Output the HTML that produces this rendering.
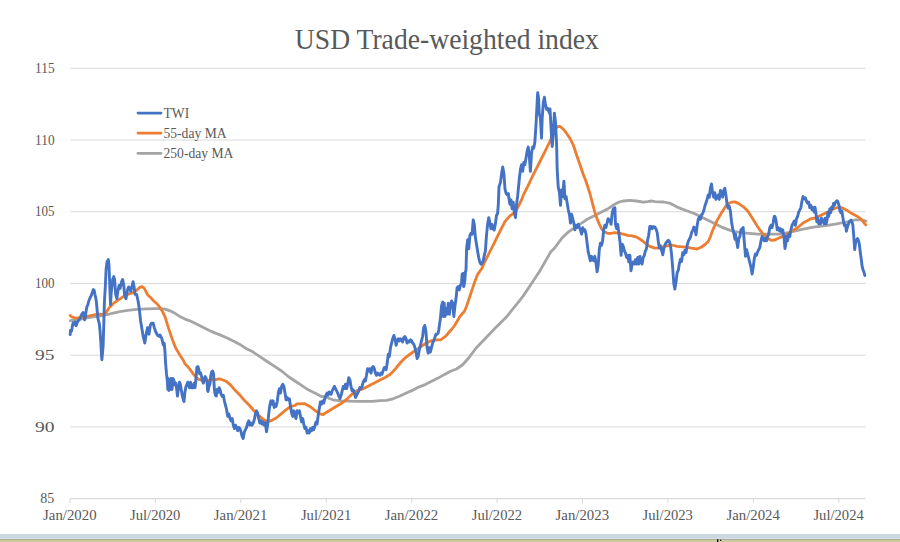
<!DOCTYPE html>
<html><head><meta charset="utf-8"><style>
html,body{margin:0;padding:0;background:#fff;}
body{width:900px;height:542px;overflow:hidden;position:relative;}
svg{position:absolute;left:0;top:0;display:block;}
text{font-family:"Liberation Serif",serif;fill:#595959;}
</style></head><body>
<svg width="900" height="542" viewBox="0 0 900 542">
<rect x="0" y="0" width="900" height="542" fill="#ffffff"/>
<line x1="70.5" y1="68.3" x2="865.5" y2="68.3" stroke="#d9d9d9" stroke-width="1"/>
<line x1="70.5" y1="140.0" x2="865.5" y2="140.0" stroke="#d9d9d9" stroke-width="1"/>
<line x1="70.5" y1="211.7" x2="865.5" y2="211.7" stroke="#d9d9d9" stroke-width="1"/>
<line x1="70.5" y1="283.5" x2="865.5" y2="283.5" stroke="#d9d9d9" stroke-width="1"/>
<line x1="70.5" y1="355.2" x2="865.5" y2="355.2" stroke="#d9d9d9" stroke-width="1"/>
<line x1="70.5" y1="426.9" x2="865.5" y2="426.9" stroke="#d9d9d9" stroke-width="1"/>

<line x1="70.0" y1="498.6" x2="865.5" y2="498.6" stroke="#d9d9d9" stroke-width="1.2"/>
<line x1="70.0" y1="498.6" x2="70.0" y2="503.1" stroke="#d9d9d9" stroke-width="1"/>
<line x1="155.4" y1="498.6" x2="155.4" y2="503.1" stroke="#d9d9d9" stroke-width="1"/>
<line x1="240.8" y1="498.6" x2="240.8" y2="503.1" stroke="#d9d9d9" stroke-width="1"/>
<line x1="326.3" y1="498.6" x2="326.3" y2="503.1" stroke="#d9d9d9" stroke-width="1"/>
<line x1="411.7" y1="498.6" x2="411.7" y2="503.1" stroke="#d9d9d9" stroke-width="1"/>
<line x1="497.1" y1="498.6" x2="497.1" y2="503.1" stroke="#d9d9d9" stroke-width="1"/>
<line x1="582.5" y1="498.6" x2="582.5" y2="503.1" stroke="#d9d9d9" stroke-width="1"/>
<line x1="667.9" y1="498.6" x2="667.9" y2="503.1" stroke="#d9d9d9" stroke-width="1"/>
<line x1="753.4" y1="498.6" x2="753.4" y2="503.1" stroke="#d9d9d9" stroke-width="1"/>
<line x1="838.8" y1="498.6" x2="838.8" y2="503.1" stroke="#d9d9d9" stroke-width="1"/>

<g font-size="14">
<text x="54.6" y="72.9" text-anchor="end" textLength="19.5" lengthAdjust="spacingAndGlyphs">115</text>
<text x="54.6" y="144.6" text-anchor="end" textLength="19.5" lengthAdjust="spacingAndGlyphs">110</text>
<text x="54.6" y="216.3" text-anchor="end" textLength="19.5" lengthAdjust="spacingAndGlyphs">105</text>
<text x="54.6" y="288.1" text-anchor="end" textLength="19.5" lengthAdjust="spacingAndGlyphs">100</text>
<text x="54.6" y="359.8" text-anchor="end" textLength="19.5" lengthAdjust="spacingAndGlyphs">95</text>
<text x="54.6" y="431.5" text-anchor="end" textLength="19.5" lengthAdjust="spacingAndGlyphs">90</text>
<text x="54.2" y="502.9" text-anchor="end">85</text>

<text x="69.8" y="520.3" text-anchor="middle" textLength="53.5" lengthAdjust="spacingAndGlyphs">Jan/2020</text>
<text x="155.2" y="520.3" text-anchor="middle" textLength="50.4" lengthAdjust="spacingAndGlyphs">Jul/2020</text>
<text x="240.6" y="520.3" text-anchor="middle" textLength="53.5" lengthAdjust="spacingAndGlyphs">Jan/2021</text>
<text x="326.1" y="520.3" text-anchor="middle" textLength="50.4" lengthAdjust="spacingAndGlyphs">Jul/2021</text>
<text x="411.5" y="520.3" text-anchor="middle" textLength="53.5" lengthAdjust="spacingAndGlyphs">Jan/2022</text>
<text x="496.9" y="520.3" text-anchor="middle" textLength="50.4" lengthAdjust="spacingAndGlyphs">Jul/2022</text>
<text x="582.3" y="520.3" text-anchor="middle" textLength="53.5" lengthAdjust="spacingAndGlyphs">Jan/2023</text>
<text x="667.7" y="520.3" text-anchor="middle" textLength="50.4" lengthAdjust="spacingAndGlyphs">Jul/2023</text>
<text x="753.2" y="520.3" text-anchor="middle" textLength="53.5" lengthAdjust="spacingAndGlyphs">Jan/2024</text>
<text x="838.6" y="520.3" text-anchor="middle" textLength="50.4" lengthAdjust="spacingAndGlyphs">Jul/2024</text>

</g>
<text x="294.8" y="49.1" font-size="28.6" textLength="304" lengthAdjust="spacingAndGlyphs">USD Trade-weighted index</text>
<g fill="none" stroke-linejoin="round" stroke-linecap="round">
<polyline points="70.2,320.6 76.8,319.9 82.7,318.7 88.6,317.6 94.5,316.6 100.0,316.0 109.2,314.1 118.5,311.8 127.7,310.4 136.9,309.3 146.1,308.8 155.4,308.6 160.0,308.6 165.0,309.1 170.0,310.8 175.0,313.3 180.0,316.6 184.9,319.1 189.9,320.8 194.9,323.3 199.9,325.8 204.9,328.3 209.9,330.7 214.8,332.9 220.0,334.9 226.6,337.7 233.3,341.1 239.9,344.4 246.6,348.8 253.2,352.1 259.8,356.6 266.5,361.0 273.1,365.4 281.6,371.0 288.3,376.5 294.9,381.0 301.6,385.4 308.2,389.8 314.8,393.1 321.5,396.5 325.0,396.7 332.8,399.8 340.7,400.9 356.4,401.4 372.1,401.4 380.0,400.7 386.5,400.3 392.9,398.8 399.4,396.2 405.8,393.2 412.3,390.4 418.7,387.1 425.2,384.6 431.7,381.3 438.1,378.1 444.6,374.4 450.0,371.5 456.5,369.0 462.4,365.0 469.1,357.5 475.7,348.5 485.0,338.7 489.8,333.7 495.3,328.1 500.8,322.6 506.4,317.1 511.9,310.2 517.4,303.3 522.9,296.4 528.5,288.1 534.0,279.8 539.5,271.5 545.1,261.8 550.6,252.1 555.0,247.5 561.6,238.6 568.3,232.0 574.9,227.6 581.6,223.1 588.2,218.7 594.8,215.4 601.5,212.1 608.1,208.7 614.4,204.4 618.9,202.1 623.3,201.0 629.9,200.4 636.6,201.0 643.2,202.1 647.6,201.7 652.1,201.0 655.0,201.6 663.9,202.0 670.5,203.4 677.2,207.1 686.0,210.5 694.9,213.8 703.8,218.2 712.6,222.6 721.5,227.1 730.3,230.4 735.0,231.6 746.4,233.1 757.5,234.2 768.6,234.2 780.0,234.2 791.1,232.0 802.1,229.3 813.2,227.1 824.2,225.8 835.3,224.2 846.4,222.0 855.2,219.8 861.9,219.8 866.0,221.0" stroke="#a5a5a5" stroke-width="2.8"/>
<polyline points="70.2,315.4 71.6,316.9 73.9,317.6 76.8,318.1 79.8,317.6 84.2,317.2 88.6,316.2 93.0,315.1 97.5,314.2 100.0,314.1 104.6,314.6 109.2,307.7 113.8,303.1 118.5,299.8 124.0,296.1 127.7,294.3 132.3,292.9 136.9,290.1 139.7,287.4 142.0,286.5 144.3,288.3 146.1,292.0 148.0,295.2 150.7,297.5 153.5,300.8 157.2,304.0 160.0,307.5 162.5,311.6 164.2,315.0 165.8,319.1 167.5,324.9 169.1,329.9 170.8,334.9 172.5,339.9 174.1,344.0 175.8,348.2 178.3,352.4 180.8,356.5 183.1,360.0 184.9,363.7 187.7,366.5 190.5,370.2 193.2,373.9 196.0,377.5 198.8,379.4 202.5,380.3 206.2,380.5 209.9,380.3 213.6,379.4 215.0,379.6 219.7,378.8 226.0,381.2 230.7,385.1 235.4,390.6 240.1,395.3 244.8,400.8 249.5,405.5 254.2,411.0 258.9,415.7 263.6,419.6 267.5,422.0 271.5,420.4 276.2,418.0 280.9,414.1 285.6,410.2 290.3,406.7 295.0,405.5 297.0,403.9 304.8,403.7 310.0,406.5 315.0,410.5 320.0,413.8 323.2,414.7 325.0,413.2 332.8,408.5 340.7,403.8 347.0,399.1 350.1,395.9 353.3,392.8 356.4,390.9 362.7,388.9 369.0,385.7 375.2,382.6 380.0,380.0 385.2,377.5 390.3,374.2 394.2,370.3 398.1,365.5 402.0,361.0 405.8,357.3 411.0,353.5 416.2,349.8 421.3,346.3 426.5,343.0 431.7,340.6 436.8,339.8 440.7,339.8 445.5,336.4 448.8,332.5 451.5,329.5 454.3,326.0 457.0,321.5 459.9,316.5 462.0,314.0 464.3,311.5 466.5,306.5 469.8,296.5 473.1,286.6 475.4,280.0 477.6,274.4 480.0,271.1 482.5,267.2 483.3,264.8 486.6,258.2 489.9,251.5 493.3,244.9 496.6,238.2 500.7,229.9 504.9,221.6 509.9,215.8 514.9,212.5 518.2,206.6 521.5,200.0 523.2,195.4 526.5,188.8 529.8,182.1 530.0,181.5 533.3,174.7 536.6,168.1 539.9,161.5 543.3,154.8 546.6,148.2 549.9,141.5 552.4,134.9 554.9,129.5 557.4,126.6 559.9,126.4 563.2,129.0 566.5,133.2 569.9,138.2 573.2,144.8 576.5,154.8 580.0,164.8 583.2,174.2 585.4,179.7 587.6,186.3 589.8,193.0 592.1,201.8 594.8,212.1 597.1,218.7 599.3,224.2 601.5,228.7 603.7,231.5 607.0,233.1 610.3,233.5 614.4,232.7 618.9,233.1 623.3,234.2 627.7,235.3 632.1,235.8 636.6,237.1 641.0,239.8 645.4,243.1 649.8,246.4 655.0,248.1 659.0,247.8 663.9,247.0 667.0,245.8 670.5,244.8 673.5,245.5 677.2,246.4 686.0,247.2 691.5,248.2 697.1,249.0 701.5,247.0 705.0,244.5 708.2,241.5 710.5,236.5 712.6,230.4 717.1,220.4 721.5,212.7 725.9,206.0 729.0,203.3 731.5,202.2 735.0,201.9 737.9,203.1 743.5,206.8 748.1,211.4 752.7,218.8 757.3,226.2 761.9,232.6 766.5,237.8 771.2,240.3 774.8,240.0 778.5,238.2 782.2,236.6 785.0,235.6 788.8,233.1 797.7,227.5 804.3,222.2 811.0,218.7 815.0,218.2 820.5,215.5 826.1,212.7 831.6,209.9 835.5,208.0 838.5,207.3 841.5,207.6 846.4,209.9 851.9,213.6 857.5,216.4 862.1,220.1 864.8,223.8 865.8,224.9" stroke="#ed7d31" stroke-width="2.8"/>
<polyline points="70.2,334.6 70.6,330.2 71.6,330.9 72.4,325.8 73.1,322.8 74.2,324.3 75.0,322.1 76.1,325.8 77.1,322.8 78.3,320.6 79.8,319.1 80.9,316.2 82.0,313.9 83.0,312.5 83.9,315.4 84.6,319.9 85.4,316.9 86.1,311.0 86.8,307.3 87.9,304.4 88.9,300.7 90.1,297.7 91.3,295.5 92.3,292.5 93.3,289.6 94.2,290.3 95.0,294.8 95.7,297.7 96.4,302.1 97.2,311.0 97.9,318.4 98.7,321.3 99.4,324.3 100.1,331.7 100.9,343.5 101.6,356.8 101.9,359.7 103.1,346.4 103.8,324.3 104.4,302.1 105.3,286.9 106.1,269.2 107.1,261.8 108.3,259.6 109.0,264.8 109.8,286.9 110.5,304.6 111.2,292.8 112.7,279.5 113.7,276.6 114.6,279.5 115.7,294.3 116.8,298.7 117.9,291.3 119.1,285.4 120.1,288.4 121.6,281.7 122.7,279.5 123.8,285.4 124.5,294.3 126.0,298.7 126.7,294.3 127.5,289.9 128.7,286.9 129.7,288.4 130.7,291.3 131.9,286.9 133.1,281.7 134.1,286.9 135.0,294.3 136.6,294.4 138.1,301.0 139.4,309.8 140.6,320.9 141.7,327.6 143.2,336.4 144.8,343.1 146.1,334.2 147.6,327.6 149.0,334.2 150.3,325.3 151.6,323.1 153.2,323.1 154.3,327.6 155.8,332.0 157.6,335.3 159.1,336.4 160.0,334.9 161.7,338.2 163.3,344.9 164.2,343.2 165.0,352.0 165.5,362.0 166.5,373.9 167.4,381.2 167.8,389.5 168.3,378.5 168.8,390.5 169.2,379.4 170.2,389.5 171.1,378.5 172.0,389.5 172.9,378.5 173.9,380.3 174.8,384.9 175.7,383.1 176.6,388.6 177.5,396.0 178.5,387.7 179.4,382.2 180.3,384.0 181.2,389.5 182.2,395.1 183.1,398.8 184.0,401.6 184.9,392.3 185.9,386.8 186.8,384.9 187.7,382.2 188.6,384.9 189.5,387.7 190.5,382.2 191.4,387.7 192.3,384.9 193.2,387.7 194.2,383.1 195.1,387.7 196.0,378.5 196.9,367.4 197.9,366.5 198.8,369.2 199.7,373.9 200.6,372.9 201.6,376.6 202.5,381.2 203.4,383.1 204.3,378.5 205.2,376.6 206.2,378.5 207.1,382.2 207.6,390.5 208.0,391.4 208.9,386.8 209.9,384.0 210.8,375.7 211.7,372.0 212.6,371.1 213.6,373.9 214.0,383.1 214.5,390.5 215.4,395.1 216.3,396.0 217.2,389.5 218.2,392.3 219.1,387.7 220.0,389.5 221.1,394.2 222.2,396.4 223.3,395.3 224.4,400.8 225.5,405.3 226.6,409.7 227.7,416.3 228.9,414.1 230.0,418.6 231.1,420.8 232.2,418.6 233.3,425.2 234.4,428.5 235.5,425.2 236.6,427.4 237.7,430.7 238.8,427.4 239.9,428.5 241.0,431.8 242.1,436.3 243.2,438.5 244.4,431.8 245.5,429.6 246.6,427.4 247.7,423.0 248.8,420.8 249.9,425.2 251.0,423.0 252.1,425.2 253.2,423.0 254.3,419.7 255.4,414.1 256.5,410.8 257.6,413.0 258.7,418.6 259.8,423.0 261.0,420.8 262.1,424.1 263.2,421.9 264.3,425.2 265.4,423.0 266.5,431.8 267.6,425.2 268.7,414.1 269.8,405.3 270.9,400.8 272.0,404.2 273.1,400.8 274.2,407.5 275.0,404.2 276.1,406.4 277.2,402.0 278.3,393.1 279.4,388.7 280.5,393.1 281.6,386.5 282.7,384.3 283.9,386.5 285.0,393.1 286.1,399.8 287.2,397.6 288.3,399.8 289.4,398.7 290.5,406.4 291.6,413.1 292.7,416.4 293.8,410.8 294.9,415.3 296.0,418.6 297.1,410.8 298.2,413.1 299.4,410.8 300.5,416.4 301.6,421.9 302.7,418.6 303.8,424.1 304.9,428.6 306.0,427.4 307.1,433.0 308.2,430.8 309.3,433.0 310.4,428.6 311.5,430.8 312.6,427.4 313.7,429.7 314.8,426.3 316.0,421.9 317.1,424.1 318.2,415.3 319.3,408.6 320.4,402.0 321.5,404.2 322.6,400.9 323.7,403.1 324.8,398.7 325.9,395.3 327.0,393.1 328.1,395.3 329.2,392.0 330.0,393.1 331.1,394.2 332.2,390.8 333.3,388.6 334.4,386.4 335.5,388.6 336.6,390.8 337.7,393.1 338.9,396.4 340.0,398.6 341.1,395.3 342.2,390.8 343.3,386.4 344.4,388.6 345.5,384.2 346.6,388.6 347.7,384.2 348.8,377.6 349.9,379.8 351.0,386.4 352.1,390.8 353.2,389.7 354.4,393.1 355.5,397.5 356.6,395.3 357.7,393.1 358.8,390.8 359.9,387.5 361.0,388.6 362.1,386.4 363.2,382.0 364.3,379.8 365.4,380.9 366.5,375.3 367.6,368.7 368.7,370.9 369.8,368.7 371.0,373.1 372.1,367.6 373.2,366.5 374.3,368.7 375.4,373.1 376.5,375.3 377.6,373.1 378.7,374.2 379.8,375.3 380.9,373.1 382.0,374.2 383.1,370.9 384.2,367.6 385.0,367.5 386.1,369.7 387.2,363.1 388.3,354.2 389.4,356.4 390.5,347.6 391.6,343.1 392.7,338.7 393.9,335.4 395.0,338.7 396.1,345.3 397.2,340.9 398.3,338.7 399.4,340.9 400.5,338.7 401.6,339.8 402.7,342.0 403.8,337.6 404.9,336.5 406.0,338.7 407.1,343.1 408.2,340.9 409.4,342.0 410.5,339.8 411.6,340.9 412.7,343.1 413.8,344.2 414.9,347.6 416.0,352.0 417.1,358.6 418.2,356.4 419.3,349.8 420.4,345.3 421.5,340.9 422.6,336.5 423.7,327.6 424.8,325.4 426.0,332.1 427.1,347.6 428.2,353.1 429.3,347.6 430.4,352.0 431.5,347.6 432.6,343.1 433.7,340.9 434.8,337.6 435.9,334.3 437.0,334.3 438.1,333.2 438.8,329.7 440.5,317.6 441.6,305.4 442.7,302.1 443.3,316.5 444.2,303.2 444.9,316.5 446.0,308.7 447.1,314.2 448.3,303.2 449.4,314.2 450.5,305.4 451.6,301.0 452.7,303.2 453.8,316.5 454.9,306.5 456.0,298.8 457.1,287.7 458.2,286.6 459.3,289.9 460.4,285.5 461.5,283.3 462.1,274.4 463.2,273.3 463.7,286.6 464.8,281.1 465.4,272.2 466.0,270.0 466.6,248.7 467.7,239.8 468.8,248.7 469.9,235.4 471.0,233.2 472.1,234.3 473.2,219.9 474.3,224.4 475.4,237.6 476.5,244.3 477.6,250.9 478.7,257.6 479.8,262.0 481.0,264.2 482.1,263.1 483.2,260.9 484.3,255.3 485.4,250.9 486.5,235.4 487.6,224.4 488.7,217.7 489.8,222.1 490.9,228.8 492.0,224.4 493.1,228.8 494.2,229.9 495.3,224.4 496.5,215.5 497.6,213.3 498.3,204.5 499.0,186.8 500.5,182.4 501.6,173.6 502.7,166.9 503.9,173.6 505.0,189.0 506.1,193.5 507.2,194.6 508.3,193.5 508.8,197.6 509.9,204.3 511.0,199.8 512.1,208.7 513.2,202.1 514.4,213.1 515.5,217.6 516.6,204.3 517.7,195.4 519.4,178.0 520.5,169.1 521.6,164.7 522.7,171.3 523.8,162.5 524.9,164.7 526.0,158.1 527.1,151.4 528.2,147.0 529.3,155.8 530.4,171.3 531.5,153.6 532.6,147.0 533.7,148.1 534.8,142.6 536.0,124.8 537.1,102.7 537.7,92.7 538.6,98.3 539.3,113.8 540.4,118.2 541.5,138.1 542.2,118.2 543.3,102.7 544.4,97.2 545.5,104.9 546.6,109.4 547.7,108.2 548.8,111.6 549.9,113.8 550.0,108.9 551.1,128.8 552.2,146.5 553.3,133.2 554.4,113.3 555.5,122.1 556.6,144.3 557.2,170.0 558.3,187.7 559.4,192.1 560.5,205.4 561.6,189.9 562.7,196.6 563.9,181.1 565.0,198.8 566.1,196.6 567.2,203.2 568.3,209.8 569.4,214.3 570.5,223.1 571.6,214.3 572.7,218.7 573.8,223.1 574.9,229.8 576.0,225.3 577.1,227.6 578.2,224.2 579.4,227.6 580.5,229.8 581.6,234.2 582.7,227.6 583.8,230.9 584.9,229.8 586.0,234.2 587.1,243.1 588.2,251.9 589.3,256.3 590.4,260.8 591.5,256.3 592.6,258.6 593.7,260.8 594.8,256.3 596.0,263.0 597.1,271.8 598.2,265.2 599.3,249.7 600.4,243.1 601.5,245.3 602.6,240.8 603.7,229.8 604.8,225.3 605.9,227.6 607.0,223.1 608.1,218.7 609.2,220.9 610.0,219.8 611.1,224.3 612.2,213.2 613.3,208.8 614.4,213.2 614.9,207.7 615.5,224.3 616.6,228.7 617.7,224.3 618.9,233.1 620.0,242.0 621.1,255.3 622.2,244.2 623.3,246.4 624.4,250.8 625.5,253.1 626.6,257.5 627.7,255.3 628.8,261.9 629.9,255.3 631.0,270.8 632.1,264.1 633.2,261.9 634.4,264.1 635.5,259.7 636.6,264.1 637.7,257.5 638.8,264.1 639.9,256.4 641.0,261.9 642.1,264.1 643.2,257.5 644.3,255.3 645.4,250.8 646.5,248.6 647.6,239.8 648.7,235.3 649.8,226.5 651.0,226.5 652.1,228.7 653.2,226.5 654.3,227.6 655.0,227.1 656.1,229.3 657.2,232.6 658.3,241.5 659.4,248.1 660.5,245.9 661.6,250.3 662.8,254.8 663.9,248.1 665.0,244.8 666.1,242.6 667.2,241.5 668.3,240.4 669.4,241.5 670.5,245.9 671.6,254.8 672.7,268.1 673.8,283.6 674.9,289.1 676.1,281.4 677.2,272.5 678.3,270.3 679.4,263.6 680.5,259.2 681.6,261.4 682.7,252.6 683.8,254.8 684.9,250.3 686.0,252.6 687.1,245.9 688.2,241.5 689.3,239.3 690.5,237.0 691.6,232.6 692.7,230.4 693.8,227.1 694.9,228.2 696.0,234.8 697.1,226.0 698.2,219.3 699.3,217.1 700.4,219.3 701.5,214.9 702.6,213.8 703.8,210.5 704.9,206.0 706.0,202.7 707.1,199.4 708.2,194.9 709.3,197.2 710.4,188.3 711.5,183.9 712.6,192.7 713.7,197.2 714.8,192.7 715.9,199.4 717.0,197.2 718.2,194.9 719.3,199.4 720.4,190.5 721.5,192.7 722.6,197.2 723.7,190.5 724.8,188.3 725.9,194.9 727.0,203.8 728.1,208.2 729.2,206.0 730.3,210.5 731.5,221.5 732.6,228.2 733.7,232.6 735.0,239.3 735.5,234.2 736.6,240.8 737.7,247.5 738.8,238.6 739.9,236.4 741.0,229.8 742.1,228.7 743.2,227.6 744.4,243.1 745.5,256.3 746.6,249.7 747.7,254.1 748.8,258.6 749.9,263.0 751.0,267.4 752.1,274.1 753.2,267.4 754.3,258.6 755.4,254.1 756.5,255.2 757.6,251.9 758.7,249.7 759.8,247.5 761.0,240.8 762.1,236.4 763.2,238.6 764.3,240.8 765.4,238.6 766.5,240.8 767.6,236.4 768.7,234.2 769.8,227.6 770.9,225.3 772.0,227.6 773.1,223.1 774.2,216.5 775.0,216.5 776.1,220.9 777.2,229.8 778.3,227.6 779.4,230.9 780.5,228.7 781.6,232.0 782.7,229.8 783.9,236.4 785.0,248.6 785.6,245.3 786.5,236.4 787.6,240.8 788.7,234.2 789.8,236.4 790.9,229.8 792.0,225.3 793.2,223.1 794.3,220.9 795.4,225.3 796.5,218.7 797.6,216.5 798.7,212.1 799.8,209.8 800.9,207.6 802.0,201.0 803.1,196.6 804.2,198.8 805.3,197.7 806.4,201.0 807.5,203.2 808.7,202.1 809.8,207.6 810.9,205.4 812.0,209.8 813.1,207.6 814.2,212.1 815.0,207.2 815.9,212.7 816.8,221.9 817.8,218.2 818.7,223.8 819.6,221.0 820.5,223.8 821.5,218.2 822.4,221.9 823.3,220.1 824.2,223.8 825.2,218.2 826.1,223.8 827.0,220.1 827.9,212.7 828.8,216.4 829.8,209.0 830.7,212.7 831.6,207.2 832.5,209.0 833.5,203.5 834.4,205.3 835.3,202.5 836.2,201.6 837.2,200.7 838.1,202.5 839.0,205.3 839.9,210.8 840.8,212.7 841.8,210.8 842.7,216.4 843.6,221.9 844.5,225.6 845.5,224.7 846.4,231.2 847.3,227.5 848.2,224.7 849.2,221.9 850.1,221.0 851.0,220.1 851.9,221.9 852.8,224.7 853.8,236.7 854.7,249.6 855.6,242.2 856.5,240.4 857.5,238.5 858.4,240.4 859.3,244.1 860.2,251.5 861.2,258.8 862.1,266.2 863.0,269.9 863.9,271.8 864.8,275.5" stroke="#4472c4" stroke-width="2.9"/>
</g>
<g stroke-width="2.8" stroke-linecap="round">
<line x1="138" y1="113.1" x2="161" y2="113.1" stroke="#4472c4"/>
<line x1="138" y1="133.1" x2="161" y2="133.1" stroke="#ed7d31"/>
<line x1="138" y1="153.3" x2="161" y2="153.3" stroke="#a5a5a5"/>
</g>
<g font-size="13.6">
<text x="163.5" y="117.5">TWI</text>
<text x="163.5" y="137.5">55-day MA</text>
<text x="163.5" y="157.6">250-day MA</text>
</g>
<rect x="0" y="534" width="900" height="4" fill="#cdd8e1"/>
<rect x="0" y="538" width="900" height="1" fill="#d4e0e9"/>
<rect x="0" y="539" width="900" height="1" fill="#aeae92"/>
<rect x="0" y="540" width="900" height="2" fill="#cbc8a2"/>
<rect x="717" y="539.3" width="1.3" height="2.7" fill="#000"/>
<circle cx="720.6" cy="540.2" r="0.7" fill="#000"/>
</svg>
</body></html>
